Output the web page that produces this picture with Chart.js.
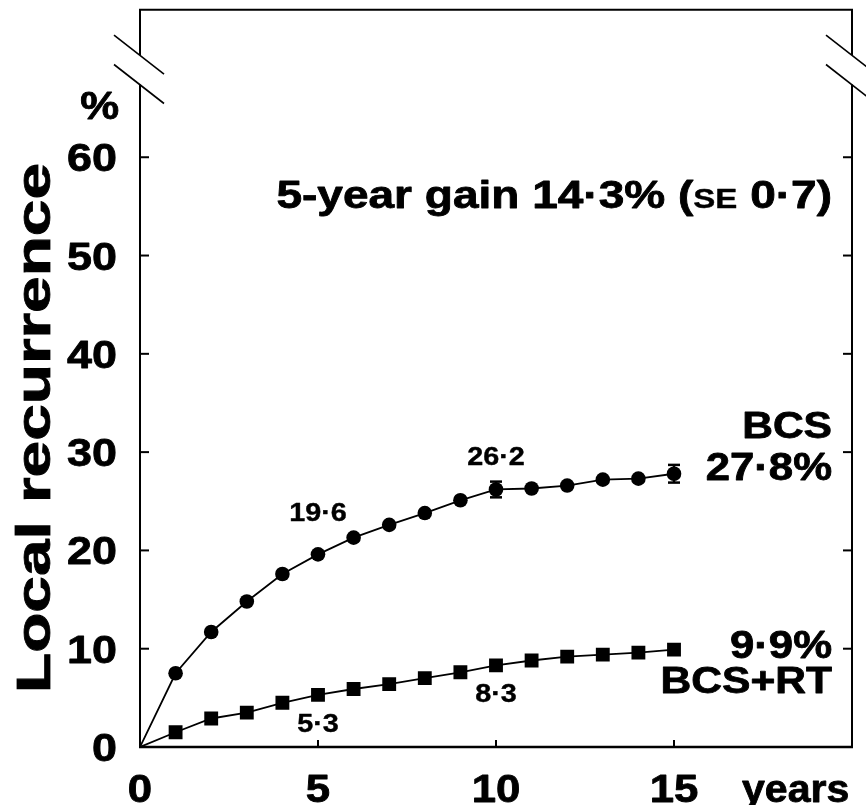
<!DOCTYPE html>
<html>
<head>
<meta charset="utf-8">
<script src="https://cdn.jsdelivr.net/npm/chart.js@4.4.1/dist/chart.umd.min.js"></script>
<style>
  html, body { margin: 0; padding: 0; background: #fff; }
  canvas { display: block; }
</style>
</head>
<body>
<canvas id="lrChart" width="866" height="805"></canvas>
<script>
// Local recurrence after breast-conserving surgery, with and without RT
const years = [0, 1, 2, 3, 4, 5, 6, 7, 8, 9, 10, 11, 12, 13, 14, 15]
const bcs = [0, 7.5, 11.7, 14.8, 17.6, 19.6, 21.3, 22.6, 23.8, 25.1, 26.2, 26.3, 26.6, 27.2, 27.3, 27.8]
const bcsRt = [0, 1.5, 2.9, 3.5, 4.5, 5.3, 5.9, 6.4, 7.0, 7.6, 8.3, 8.8, 9.2, 9.4, 9.6, 9.9]
const bcsSE = [null, null, null, null, null, null, null, null, null, null, 0.8, null, null, null, null, 0.9]
const yTicks = [0, 10, 20, 30, 40, 50, 60]
const xTicks = [0, 5, 10, 15]

const FONT = '"Liberation Sans", Arial, Helvetica, sans-serif'
const STRETCH = 1.15

const fmt = v => v.toFixed(1).replace('.', '\u00B7')

// bold text, widened a little and lightly stroked for a heavier face
function txt(ctx, s, x, y, size, align, k) {
  ctx.save()
  ctx.font = 'bold ' + size + 'px ' + FONT
  ctx.textAlign = align || 'left'
  ctx.textBaseline = 'alphabetic'
  ctx.fillStyle = '#000'
  ctx.strokeStyle = '#000'
  ctx.lineWidth = size > 30 ? 0.8 : 0.4
  ctx.lineJoin = 'round'
  ctx.translate(x, y)
  ctx.scale(k || STRETCH, 1)
  ctx.fillText(s, 0, 0)
  ctx.strokeText(s, 0, 0)
  ctx.restore()
}

function line(ctx, x1, y1, x2, y2, w) {
  ctx.beginPath()
  ctx.lineWidth = w
  ctx.moveTo(x1, y1)
  ctx.lineTo(x2, y2)
  ctx.stroke()
}

const framePlugin = {
  id: 'frame',
  beforeDatasetsDraw(chart) {
    const { ctx, chartArea: a, scales } = chart
    const sy = scales.y, sx = scales.x
    ctx.save()
    ctx.strokeStyle = '#000'
    ctx.lineCap = 'butt'

    // axis break sits between these two values on both side axes
    const brTop = sy.getPixelForValue(70.4)
    const brBot = sy.getPixelForValue(67.4)

    line(ctx, a.left - 1, a.top, a.right + 1, a.top, 2)
    line(ctx, a.left - 1, a.bottom, a.right + 1, a.bottom, 2.5)
    for (const x of [a.left, a.right]) {
      line(ctx, x, a.top, x, brTop, 2)
      line(ctx, x, brBot, x, a.bottom, 2)
      for (const yb of [brTop, brBot]) {
        line(ctx, x - 26, yb - 20, x + 24, yb + 19, 1.6)
      }
    }

    // inward ticks
    for (const v of yTicks) {
      if (v === 0) continue
      const py = sy.getPixelForValue(v)
      line(ctx, a.left, py, a.left + 9, py, 2)
      line(ctx, a.right - 9, py, a.right, py, 2)
    }
    for (const v of xTicks) {
      if (v === 0) continue
      const px = sx.getPixelForValue(v)
      line(ctx, px, a.bottom, px, a.bottom - 7, 2)
    }
    ctx.restore()
  },
  afterDatasetsDraw(chart) {
    const { ctx, scales } = chart
    const sx = scales.x, sy = scales.y
    ctx.save()
    ctx.strokeStyle = '#000'
    bcsSE.forEach((se, i) => {
      if (se == null) return
      const px = sx.getPixelForValue(years[i])
      const hi = sy.getPixelForValue(bcs[i] + se)
      const lo = sy.getPixelForValue(bcs[i] - se)
      line(ctx, px, hi, px, lo, 2.5)
      line(ctx, px - 6, hi, px + 6, hi, 2.5)
      line(ctx, px - 6, lo, px + 6, lo, 2.5)
    })
    ctx.restore()
  },
  afterDraw(chart) {
    const { ctx, chartArea: a, scales } = chart
    const sx = scales.x, sy = scales.y

    // tick labels
    for (const v of yTicks) {
      txt(ctx, String(v), a.left - 23, sy.getPixelForValue(v) + 14, 39, 'right')
    }
    for (const v of xTicks) {
      txt(ctx, String(v), sx.getPixelForValue(v), 802, 38, 'center')
    }
    txt(ctx, '%', a.left - 21, 119, 38, 'right')
    txt(ctx, 'years', 742, 802, 38, 'left', 1.08)

    // axis title
    ctx.save()
    ctx.font = 'bold 48px ' + FONT
    ctx.fillStyle = '#000'
    ctx.strokeStyle = '#000'
    ctx.lineWidth = 0.8
    ctx.textAlign = 'center'
    ctx.textBaseline = 'alphabetic'
    ctx.translate(50, 428)
    ctx.rotate(-Math.PI / 2)
    ctx.scale(1.37, 1)
    ctx.fillText('Local recurrence', 0, 0)
    ctx.strokeText('Local recurrence', 0, 0)
    ctx.restore()

    // gain statement, small caps for SE
    const gk = 1.18
    const parts = [['5-year gain 14\u00B73% (', 39], ['SE', 28], [' 0\u00B77)', 39]]
    let total = 0
    for (const [s, size] of parts) {
      ctx.font = 'bold ' + size + 'px ' + FONT
      total += ctx.measureText(s).width * gk
    }
    let x = 832 - total
    for (const [s, size] of parts) {
      txt(ctx, s, x, 208, size, 'left', gk)
      ctx.font = 'bold ' + size + 'px ' + FONT
      x += ctx.measureText(s).width * gk
    }

    // end-of-curve labels
    const last = years.length - 1
    txt(ctx, 'BCS', 832, 438, 37, 'right')
    txt(ctx, fmt(bcs[last]) + '%', 832, 480, 38, 'right')
    txt(ctx, fmt(bcsRt[last]) + '%', 832, 658, 38, 'right')
    txt(ctx, 'BCS+RT', 832, 693, 37, 'right')

    // values at 5 and 10 years
    const i5 = years.indexOf(5), i10 = years.indexOf(10)
    txt(ctx, fmt(bcs[i5]), sx.getPixelForValue(5), sy.getPixelForValue(bcs[i5]) - 33, 25, 'center')
    txt(ctx, fmt(bcs[i10]), sx.getPixelForValue(10), sy.getPixelForValue(bcs[i10]) - 24, 25, 'center')
    txt(ctx, fmt(bcsRt[i5]), sx.getPixelForValue(5), sy.getPixelForValue(bcsRt[i5]) + 37, 25, 'center')
    txt(ctx, fmt(bcsRt[i10]), sx.getPixelForValue(10), sy.getPixelForValue(bcsRt[i10]) + 37, 25, 'center')
  }
}

const fixedTicks = list => scale => { scale.ticks = list.map(v => ({ value: v })) }

new Chart(document.getElementById('lrChart').getContext('2d'), {
  type: 'line',
  data: {
    datasets: [
      {
        label: 'BCS',
        data: years.map((x, i) => ({ x, y: bcs[i] })),
        borderColor: '#000',
        backgroundColor: '#000',
        borderWidth: 1.8,
        pointStyle: 'circle',
        pointRadius: years.map(x => (x === 0 ? 0 : 7.3)),
        pointBorderWidth: 0,
        tension: 0,
      },
      {
        label: 'BCS+RT',
        data: years.map((x, i) => ({ x, y: bcsRt[i] })),
        borderColor: '#000',
        backgroundColor: '#000',
        borderWidth: 1.8,
        pointStyle: 'rect',
        pointRadius: years.map(x => (x === 0 ? 0 : 9.8)),
        pointBorderWidth: 0,
        tension: 0,
      },
    ],
  },
  options: {
    responsive: false,
    animation: false,
    layout: { padding: { top: 7, right: 14, left: 0, bottom: 0 } },
    plugins: { legend: { display: false }, tooltip: { enabled: false } },
    scales: {
      x: {
        type: 'linear',
        min: 0,
        max: 20,
        ticks: { display: false },
        grid: { display: false },
        border: { display: false },
        afterBuildTicks: fixedTicks(xTicks),
        afterFit: s => { s.height = 58 },
      },
      y: {
        min: 0,
        max: 75,
        ticks: { display: false },
        grid: { display: false },
        border: { display: false },
        afterBuildTicks: fixedTicks(yTicks),
        afterFit: s => { s.width = 140 },
      },
    },
  },
  plugins: [framePlugin],
})
</script>
</body>
</html>
